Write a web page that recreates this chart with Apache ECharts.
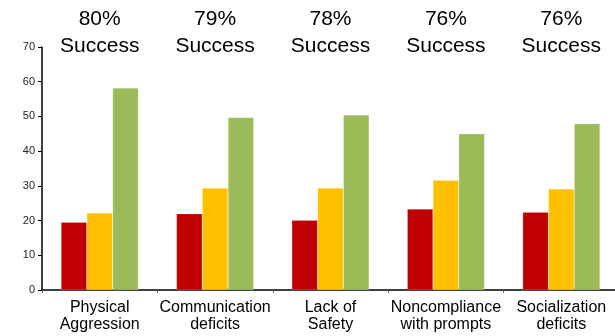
<!DOCTYPE html>
<html>
<head>
<meta charset="utf-8">
<script src="https://cdn.jsdelivr.net/npm/echarts@6/dist/echarts.min.js"></script>
<style>html,body{margin:0;padding:0;background:#fff}#c{width:615px;height:336px}</style>
</head>
<body>
<div id="c"></div>
<script>
const categories = ['Physical\nAggression', 'Communication\ndeficits', 'Lack of\nSafety', 'Noncompliance\nwith prompts', 'Socialization\ndeficits'];
const successLabels = ['80%\nSuccess', '79%\nSuccess', '78%\nSuccess', '76%\nSuccess', '76%\nSuccess'];
const redValues = [19.5, 22.0, 20.1, 23.3, 22.4];
const yellowValues = [22.2, 29.4, 29.4, 31.6, 29.1];
const greenValues = [58.2, 49.7, 50.4, 45.0, 47.9];
const yTicks = [0, 10, 20, 30, 40, 50, 60, 70];

const chart = echarts.init(document.getElementById('c'), null, {renderer: 'canvas'});
function bar(data, color) {
  return {
    type: 'bar', data: data, xAxisIndex: 0, yAxisIndex: 0,
    barGap: '0%', barCategoryGap: '33%',
    itemStyle: {color: color, borderColor: 'rgba(255,255,255,0.35)', borderWidth: 0.5},
    animation: false
  };
}
chart.setOption({
  animation: false,
  grid: {left: 42, right: -4, top: 47, bottom: 46, outerBoundsMode: 'none', containLabel: false},
  xAxis: [{
    type: 'category', data: categories, position: 'bottom',
    axisLine: {lineStyle: {color: '#000', width: 1.5}},
    axisTick: {show: true, length: 3, lineStyle: {color: '#666'}},
    axisLabel: {fontFamily: 'Liberation Sans', fontSize: 16, color: '#000', lineHeight: 17, margin: 9, interval: 0}
  }, {
    type: 'category', data: successLabels, position: 'top',
    axisLine: {show: false}, axisTick: {show: false},
    axisLabel: {fontFamily: 'Liberation Sans', fontSize: 21, color: '#000', lineHeight: 27, margin: -13, interval: 0}
  }],
  yAxis: {
    type: 'value', min: yTicks[0], max: yTicks[yTicks.length - 1], interval: 10,
    axisLine: {show: true, lineStyle: {color: '#000', width: 1.5}},
    axisTick: {show: true, length: 4, lineStyle: {color: '#000'}},
    splitLine: {show: false},
    axisLabel: {fontFamily: 'Liberation Sans', fontSize: 11, color: '#222', margin: 7}
  },
  series: [bar(redValues, '#C00000'), bar(yellowValues, '#FFC000'), bar(greenValues, '#9BBB59')]
});
</script>
</body>
</html>
